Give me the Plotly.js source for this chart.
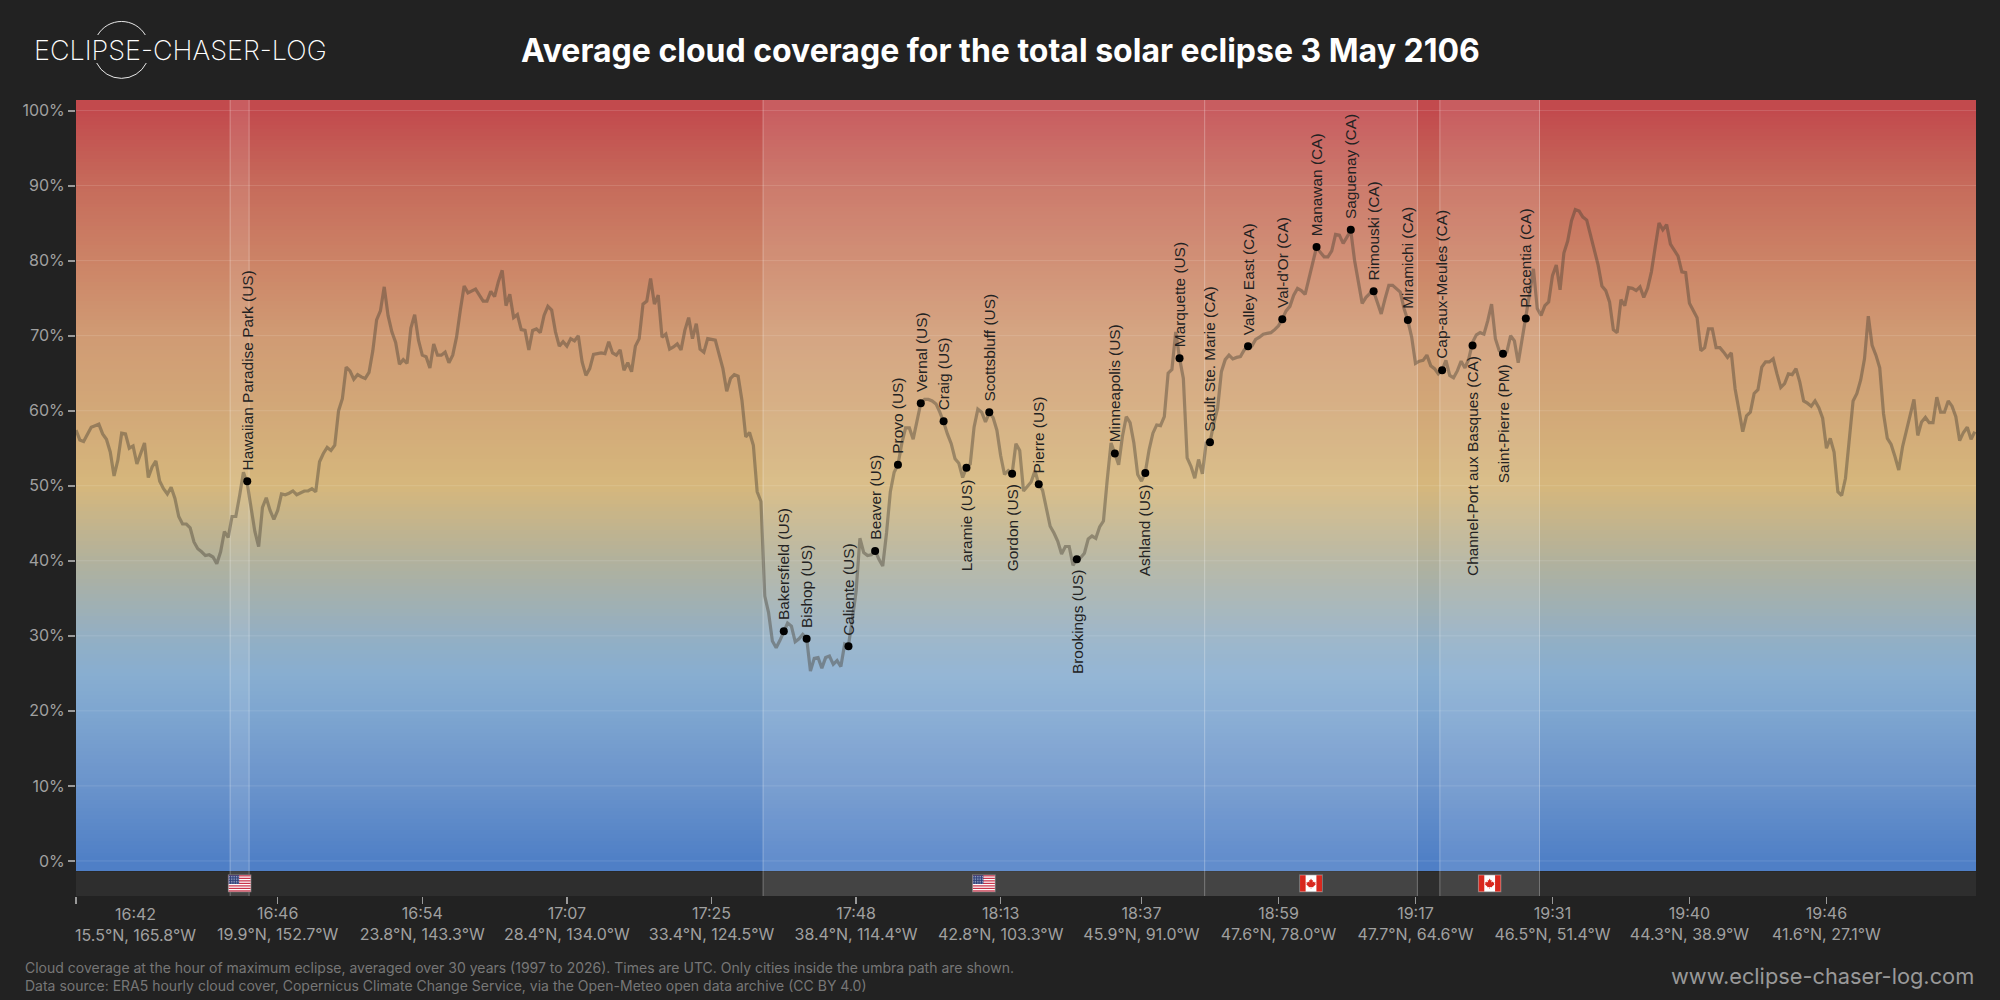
<!DOCTYPE html>
<html><head><meta charset="utf-8">
<script src="https://cdn.plot.ly/plotly-3.0.1.min.js"></script>
<style>html,body{margin:0;padding:0;background:#222222}#c{width:2000px;height:1000px}</style>
</head><body><div id="c"></div>
<script>
const cloud=[
57.4,56.1,55.9,56.9,57.8,58.0,58.2,56.9,56.2,54.5,
51.3,53.4,57.0,56.9,55.0,55.3,52.9,54.3,55.7,51.1,
52.5,53.3,50.6,49.6,48.9,49.8,48.3,45.9,44.9,44.9,
44.4,42.5,41.6,41.2,40.7,40.8,40.5,39.6,41.2,43.9,
43.1,45.9,45.9,48.7,51.8,50.3,47.2,43.9,41.9,47.1,
48.4,46.7,45.5,46.7,48.9,48.8,49.0,49.3,48.8,49.0,
49.3,49.3,49.6,49.2,53.2,54.3,55.1,54.7,55.4,60.0,
61.6,65.8,65.3,64.2,64.8,64.5,64.3,65.1,68.0,72.1,
73.3,76.5,72.7,70.5,69.1,66.2,66.8,66.3,71.0,72.8,
69.4,67.4,67.2,65.7,68.9,67.4,67.4,67.8,66.4,67.4,
69.8,73.4,76.6,75.7,76.0,76.2,75.4,74.6,74.6,75.9,
75.2,77.2,78.7,74.0,75.5,72.4,72.8,70.8,70.7,68.1,
70.7,70.9,70.4,72.7,73.9,73.4,70.5,68.6,69.2,68.6,
69.6,69.3,70.0,66.5,64.7,65.6,67.5,67.6,67.7,67.6,
69.2,67.7,67.4,68.1,65.4,66.4,65.2,68.6,69.6,74.2,
74.6,77.6,74.2,75.4,69.8,70.2,68.2,68.5,68.9,68.1,
70.7,72.4,69.6,71.6,68.2,67.8,69.6,69.5,69.4,67.5,
65.6,62.6,64.3,64.8,64.6,61.4,56.5,57.1,55.4,49.2,
47.9,35.3,33.1,29.3,28.4,29.4,30.6,31.7,31.3,29.2,
29.6,30.2,29.7,25.3,27.0,27.1,25.7,27.1,27.3,26.2,
26.7,25.9,28.9,28.7,32.2,35.9,43.0,41.1,40.7,40.8,
41.4,40.2,39.3,43.7,49.2,51.8,52.8,55.6,57.7,57.7,
56.2,58.7,61.0,61.5,61.5,61.3,60.9,59.8,58.5,56.9,
55.6,53.6,53.0,51.1,52.4,52.9,57.8,60.2,59.8,58.5,
59.7,59.1,57.4,54.0,51.5,52.0,51.6,55.6,54.7,49.3,
49.9,50.5,52.0,50.2,49.4,46.8,44.6,43.7,42.6,40.9,
41.9,41.9,39.4,40.2,40.4,41.0,42.9,43.3,43.0,44.5,
45.3,50.8,55.7,54.3,52.8,56.6,59.2,58.4,55.7,51.5,
50.6,51.8,54.8,57.0,58.1,58.0,59.2,65.0,65.5,70.5,
67.0,64.3,53.7,52.6,51.0,53.5,51.6,55.7,55.8,58.3,
60.3,65.2,66.8,67.4,66.9,67.1,67.2,68.1,68.5,68.6,
69.5,69.8,70.2,70.3,70.4,70.8,71.3,72.2,73.3,73.9,
75.4,76.3,76.0,75.5,77.6,80.0,81.8,81.1,80.5,80.5,
81.3,83.5,83.4,82.3,83.1,84.0,80.0,77.3,74.3,75.1,
75.6,75.9,74.4,72.9,74.9,76.7,76.7,76.2,75.8,73.6,
72.0,69.8,66.3,66.6,66.7,67.4,66.0,65.6,64.9,65.4,
66.7,64.7,64.4,65.3,66.6,65.7,66.9,69.1,70.1,70.4,
70.2,72.0,74.2,69.6,68.0,67.6,67.8,70.0,69.3,66.4,
69.3,72.2,75.6,78.9,73.6,72.7,74.0,74.5,78.0,79.4,
76.1,81.0,82.6,85.3,86.8,86.6,85.8,85.4,83.3,81.6,
79.4,76.6,76.0,74.5,70.8,70.4,74.8,74.0,76.4,76.3,
76.0,76.5,75.1,76.3,78.5,81.8,85.0,84.1,84.8,82.2,
81.4,80.6,78.5,78.4,74.3,73.4,72.4,68.0,68.4,70.9,
70.9,68.4,68.4,67.8,67.1,67.7,62.9,60.1,57.2,59.3,
59.8,62.3,62.8,65.8,66.5,66.5,66.9,64.9,63.1,63.6,
64.9,64.8,65.6,63.8,61.3,61.0,60.6,61.3,60.4,59.0,
55.0,56.3,54.5,49.2,48.7,51.0,56.1,61.3,62.3,64.1,
66.9,72.6,68.7,67.4,65.7,59.6,56.3,55.5,53.9,52.1,
55.2,57.2,59.6,61.5,56.7,58.5,59.1,58.4,58.4,61.8,
59.8,59.8,61.3,60.6,59.2,56.0,57.1,57.8,56.2,57.2];
const trackIndex=cloud.map((_,i)=>i);

const cityNames=["Hawaiian Paradise Park (US)","Bakersfield (US)","Bishop (US)","Caliente (US)","Beaver (US)","Provo (US)","Vernal (US)","Craig (US)","Laramie (US)","Scottsbluff (US)","Gordon (US)","Pierre (US)","Brookings (US)","Minneapolis (US)","Ashland (US)","Marquette (US)","Sault Ste. Marie (CA)","Valley East (CA)","Val-d'Or (CA)","Manawan (CA)","Saguenay (CA)","Rimouski (CA)","Miramichi (CA)","Cap-aux-Meules (CA)","Channel-Port aux Basques (CA)","Saint-Pierre (PM)","Placentia (CA)"];
const cityIndex=[45,186,192,203,210,216,222,228,234,240,246,253,263,273,281,290,298,308,317,326,335,341,350,359,367,375,381];
const cityCloud=[50.6,30.6,29.6,28.6,41.3,52.8,61.0,58.6,52.4,59.8,51.6,50.2,40.2,54.3,51.7,67.0,55.8,68.6,72.2,81.8,84.1,75.9,72.1,65.4,68.7,67.6,72.3];
const cityBelow=["Laramie (US)","Gordon (US)","Brookings (US)","Ashland (US)","Channel-Port aux Basques (CA)","Saint-Pierre (PM)"];

const xTickIndex=[0,53,91,129,167,205,243,280,316,352,388,424,460];
const xTickTimes=["16:42","16:46","16:54","17:07","17:25","17:48","18:13","18:37","18:59","19:17","19:31","19:40","19:46"];
const xTickCoords=["15.5°N, 165.8°W","19.9°N, 152.7°W","23.8°N, 143.3°W","28.4°N, 134.0°W","33.4°N, 124.5°W","38.4°N, 114.4°W","42.8°N, 103.3°W","45.9°N, 91.0°W","47.6°N, 78.0°W","47.7°N, 64.6°W","46.5°N, 51.4°W","44.3°N, 38.9°W","41.6°N, 27.1°W"];
const yTicks=[0,10,20,30,40,50,60,70,80,90,100];
const countryBands=[["us",40.5,45.5],["us",180.55,296.6],["ca",296.6,352.5],["ca",358.4,384.6]];

const gradStops=[0,10,20,25,30,40,50,60,70,80,90,100];
const gradColors=["#4f7fc6","#6a93cb","#7ea6d0","#88aed0","#93afc3","#b1b19c","#d6b77c","#d2a878","#d09b74","#cc8366","#c66b5b","#c24a4d"];

const XMAX=499.3, YMIN=-4.67, YMAX=101.4, BOT=-1.4;
const PX=p=>(p-76)/1900, PY=p=>1-(p-100)/796;
const FONT='Inter, "Noto Sans", sans-serif';

const yEdges=[],zRows=[];
for(let v=BOT;v<YMAX;v+=0.5){yEdges.push(v);zRows.push([v+0.25]);}
yEdges.push(YMAX);
const colorscale=gradStops.map((s,i)=>[s/100,gradColors[i]]);

const gx=[],gy=[];
yTicks.forEach(t=>{gx.push(0,XMAX,null);gy.push(t,t,null);});

const traces=[
 {type:'heatmap',x:[0,XMAX],y:yEdges,z:zRows,zmin:0,zmax:100,colorscale:colorscale,showscale:false,hoverinfo:'skip'},
 {type:'scatter',mode:'lines',x:gx,y:gy,line:{color:'rgba(255,255,255,0.13)',width:1},hoverinfo:'skip',showlegend:false}
];
const ex=[],ey=[];
countryBands.forEach(b=>{
 traces.push({type:'scatter',mode:'none',x:[b[1],b[1],b[2],b[2],b[1]],y:[YMIN,YMAX,YMAX,YMIN,YMIN],fill:'toself',fillcolor:'rgba(255,255,255,0.11)',hoverinfo:'skip',showlegend:false});
 [b[1],b[2]].forEach(e=>{if(!ex.includes(e)){ex.push(e,e,null);ey.push(YMIN,YMAX,null);}});
});
traces.push({type:'scatter',mode:'lines',x:ex,y:ey,line:{color:'rgba(255,255,255,0.3)',width:1},hoverinfo:'skip',showlegend:false});
traces.push({type:'scatter',mode:'lines',x:trackIndex,y:cloud,line:{color:'rgba(70,62,50,0.42)',width:3.2},hoverinfo:'skip',showlegend:false});
traces.push({type:'scatter',mode:'markers',x:cityIndex,y:cityCloud,marker:{color:'#000',size:8},hoverinfo:'skip',showlegend:false});

const usFlag=(()=>{let s='<svg xmlns="http://www.w3.org/2000/svg" viewBox="0 0 24 18" preserveAspectRatio="none"><rect width="24" height="18" fill="#777"/><rect x="1" y="1" width="22" height="16" fill="#fff"/>';
 for(let i=0;i<7;i++)s+=`<rect x="1" y="${1+i*2.46}" width="22" height="1.23" fill="#c8334a"/>`;
 s+='<rect x="1" y="1" width="10.5" height="8.6" fill="#2c3e78"/>';
 for(let r=0;r<5;r++)for(let c=0;c<6;c++)s+=`<rect x="${1.6+c*1.7}" y="${1.8+r*1.6}" width="0.8" height="0.8" fill="#c8cde0"/>`;
 return 'data:image/svg+xml;utf8,'+encodeURIComponent(s+'</svg>');})();
const caFlag='data:image/svg+xml;utf8,'+encodeURIComponent('<svg xmlns="http://www.w3.org/2000/svg" viewBox="0 0 24 18" preserveAspectRatio="none"><rect width="24" height="18" fill="#777"/><rect x="1" y="1" width="22" height="16" fill="#fff"/><rect x="1" y="1" width="5.6" height="16" fill="#d8281e"/><rect x="17.4" y="1" width="5.6" height="16" fill="#d8281e"/><path d="M12 4.2l1 1.9 1-.4-.4 2.4 1.4-1 .4 1 1.3-.2-.5 1.7.6.4-2.4 2-.2.9-2-.3v1.9h-.4v-1.9l-2 .3-.2-.9-2.4-2 .6-.4-.5-1.7 1.3.2.4-1 1.4 1-.4-2.4 1 .4z" fill="#d8281e"/></svg>');
const logoArcs='data:image/svg+xml;utf8,'+encodeURIComponent('<svg xmlns="http://www.w3.org/2000/svg" viewBox="0 0 60 60"><path d="M6.2 15 A27.7 27.7 0 0 1 53.8 15" fill="none" stroke="#fff" stroke-width="0.9"/><path d="M5.2 43 A27.7 27.7 0 0 0 54.8 43" fill="none" stroke="#fff" stroke-width="0.9"/></svg>');

const images=countryBands.map(b=>({source:b[0]==='us'?usFlag:caFlag,xref:'x',yref:'y',x:(b[1]+b[2])/2,y:-2.99,sizex:6.3,sizey:2.45,xanchor:'center',yanchor:'middle',sizing:'stretch',layer:'above'}));
images.push({source:logoArcs,xref:'paper',yref:'paper',x:PX(91.5),y:PY(20),sizex:60/1900,sizey:60/796,xanchor:'left',yanchor:'top',sizing:'stretch',layer:'above'});

const annotations=cityNames.map((n,i)=>{const below=cityBelow.includes(n);return {x:cityIndex[i],y:cityCloud[i],xref:'x',yref:'y',text:n,textangle:-90,showarrow:false,xanchor:'center',yanchor:below?'top':'bottom',yshift:below?-9:9,font:{family:'"Liberation Sans", Arial, sans-serif',size:15.4,color:'#222'}};});
annotations.push({x:0,y:0,xref:'x',yref:'paper',yanchor:'top',xanchor:'left',yshift:-6,xshift:-3,align:'center',showarrow:false,text:xTickTimes[0]+'<br>'+xTickCoords[0],font:{family:FONT,size:16,color:'#a0a0a0'}});
annotations.push({xref:'paper',yref:'paper',x:PX(1000),y:PY(50),xanchor:'center',yanchor:'middle',showarrow:false,text:'<b>Average cloud coverage for the total solar eclipse 3 May 2106</b>',font:{family:FONT,size:32,color:'#fff'}});
annotations.push({xref:'paper',yref:'paper',x:PX(32),y:PY(50),xanchor:'left',yanchor:'middle',showarrow:false,text:'ECLIPSE-CHASER-LOG',font:{family:FONT,size:27,weight:200,color:'#fff'}});
annotations.push({xref:'paper',yref:'paper',x:PX(23),y:PY(976),xanchor:'left',yanchor:'middle',align:'left',showarrow:false,text:'Cloud coverage at the hour of maximum eclipse, averaged over 30 years (1997 to 2026). Times are UTC. Only cities inside the umbra path are shown.<br>Data source: ERA5 hourly cloud cover, Copernicus Climate Change Service, via the Open-Meteo open data archive (CC BY 4.0)',font:{family:FONT,size:14,color:'#777'}});
annotations.push({xref:'paper',yref:'paper',x:PX(1976),y:PY(976),xanchor:'right',yanchor:'middle',showarrow:false,text:'www.eclipse-chaser-log.com',font:{family:FONT,size:21.8,color:'#999'}});

const layout={
 width:2000,height:1000,paper_bgcolor:'#222222',plot_bgcolor:'#222222',
 margin:{l:76,r:24,t:100,b:104,pad:0},showlegend:false,
 xaxis:{range:[0,XMAX],tickmode:'array',tickvals:xTickIndex,ticktext:xTickTimes.map((t,i)=>i===0?'':t+'<br>'+xTickCoords[i]),ticks:'outside',ticklen:7,tickwidth:1.5,tickcolor:'#999',showgrid:false,zeroline:false,showline:false,tickfont:{family:FONT,size:16,color:'#a0a0a0'},tickangle:0,ticklabelstandoff:-4},
 yaxis:{range:[YMIN,YMAX],tickmode:'array',tickvals:yTicks,ticktext:yTicks.map(t=>t+'%'),ticks:'outside',ticklen:7,tickwidth:2,tickcolor:'#999',showgrid:false,zeroline:false,showline:false,tickfont:{family:FONT,size:16,color:'#a0a0a0'}},
 shapes:[{type:'rect',xref:'x',yref:'y',x0:0,x1:XMAX,y0:YMIN,y1:BOT,fillcolor:'#2e2e2e',line:{width:0},layer:'below'}],
 images:images,annotations:annotations
};
Plotly.newPlot('c',traces,layout,{staticPlot:true,displayModeBar:false});
</script></body></html>
